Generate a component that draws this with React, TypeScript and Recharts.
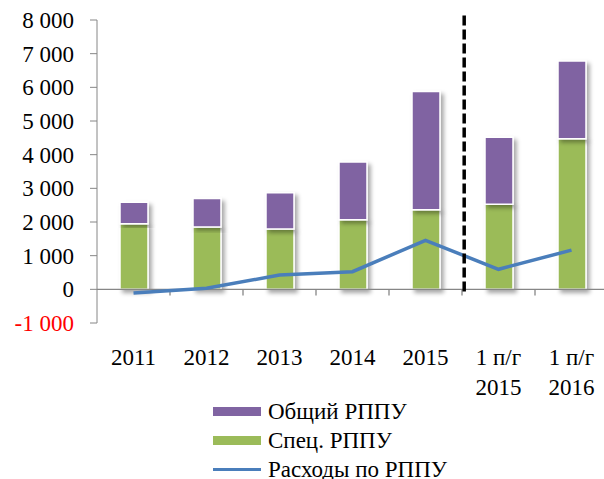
import { Bar, ComposedChart, Legend, Line, ReferenceLine, XAxis, YAxis } from 'recharts';

const categories = ['2011', '2012', '2013', '2014', '2015', '1 п/г\n2015', '1 п/г\n2016'];
const specValues = [1950, 1850, 1790, 2070, 2365, 2530, 4470];
const generalValues = [640, 850, 1080, 1710, 3510, 1990, 2315];
const expenseValues = [-110, 30, 425, 525, 1455, 595, 1165];
const yTicks = [-1000, 0, 1000, 2000, 3000, 4000, 5000, 6000, 7000, 8000];
const boundaries = [1, 2, 3, 4, 5, 6];
const dividerAt = 5.03;

const seriesNames = { general: 'Общий РППУ', spec: 'Спец. РППУ', expenses: 'Расходы по РППУ' };
const legendOrder = ['general', 'spec', 'expenses'];

const data = categories.map((name, i) => ({
  name,
  pos: i + 0.5,
  spec: specValues[i],
  general: generalValues[i],
  expenses: expenseValues[i],
}));

const FONT = '"Liberation Serif", "Times New Roman", serif';
const AXIS = '#868686';

function fmt(v: number) {
  const s = Math.abs(v).toString().replace(/\B(?=(\d{3})+(?!\d))/g, ' ');
  return (v < 0 ? '-' : '') + s;
}

function YTick({ x, y, payload }: any) {
  return (
    <text
      x={x}
      y={y}
      dy={8}
      textAnchor="end"
      style={{ fontFamily: FONT, fontSize: 23 }}
      fill={payload.value < 0 ? '#FF0000' : '#000'}
    >
      {fmt(payload.value)}
    </text>
  );
}

function XTick({ x, y, payload }: any) {
  const lines = String(payload.value).split('\n');
  return (
    <text x={x} y={y} textAnchor="middle" style={{ fontFamily: FONT, fontSize: 23 }} fill="#000">
      {lines.map((l, i) => (
        <tspan key={i} x={x} dy={i === 0 ? 42 : 30}>
          {l}
        </tspan>
      ))}
    </text>
  );
}

function LegendContent({ payload }: any) {
  const items = legendOrder.map((k) => (payload || []).find((p: any) => p.dataKey === k)).filter(Boolean);
  return (
    <div style={{ fontFamily: FONT, fontSize: 23, color: '#000', lineHeight: '25px' }}>
      {items.map((p: any) => (
        <div key={p.dataKey} style={{ display: 'flex', alignItems: 'center', height: 29 }}>
          <span
            style={{
              display: 'inline-block',
              width: 48,
              height: p.dataKey === 'expenses' ? 3 : 9,
              background: p.color,
              marginRight: 7,
            }}
          />
          <span>{seriesNames[p.dataKey as keyof typeof seriesNames]}</span>
        </div>
      ))}
    </div>
  );
}

export default function App() {
  return (
    <div style={{ position: 'absolute', top: 0, left: 0, width: 604, height: 479, overflow: 'hidden', background: '#fff' }}>
      <ComposedChart width={620} height={479} data={data} margin={{ top: 20, right: 12, left: 0, bottom: 0 }}>
        <defs>
          <filter id="barShadow" x="-30%" y="-10%" width="170%" height="130%">
            <feDropShadow dx="3" dy="3" stdDeviation="2" floodColor="#000" floodOpacity="0.35" />
          </filter>
        </defs>
        <XAxis dataKey="name" height={156} axisLine={false} tickLine={false} tickSize={0} tickMargin={0} tick={<XTick />} interval={0} />
        <XAxis xAxisId="n" dataKey="pos" type="number" domain={[0, 7]} allowDataOverflow hide />
        <YAxis
          domain={[-1000, 8000]}
          ticks={yTicks}
          width={97}
          interval={0}
          stroke={AXIS}
          tickSize={7}
          tickMargin={16}
          tick={<YTick />}
        />
        <Legend
          layout="vertical"
          align="center"
          verticalAlign="middle"
          content={<LegendContent />}
          wrapperStyle={{ top: 397, left: 213, width: 280 }}
        />
        <Bar dataKey="spec" stackId="a" fill="#9BBB59" stroke="#fff" strokeWidth={1.5} barSize={28} filter="url(#barShadow)" isAnimationActive={false} />
        <Bar dataKey="general" stackId="a" fill="#8064A2" stroke="#fff" strokeWidth={1.5} barSize={28} filter="url(#barShadow)" isAnimationActive={false} />
        <ReferenceLine y={0} stroke={AXIS} strokeWidth={1.3} />
        {boundaries.map((b) => (
          <ReferenceLine
            key={b}
            xAxisId="n"
            segment={[{ x: b, y: 0 }, { x: b, y: -180 }]}
            stroke={AXIS}
            strokeWidth={1.3}
            ifOverflow="visible"
          />
        ))}
        <Line dataKey="expenses" stroke="#4A7EBB" strokeWidth={3.5} dot={false} activeDot={false} isAnimationActive={false} />
        <ReferenceLine
          xAxisId="n"
          segment={[{ x: dividerAt, y: 8130 }, { x: dividerAt, y: -180 }]}
          stroke="#000"
          strokeWidth={3.5}
          strokeDasharray="10 4"
          ifOverflow="visible"
        />
      </ComposedChart>
    </div>
  );
}
